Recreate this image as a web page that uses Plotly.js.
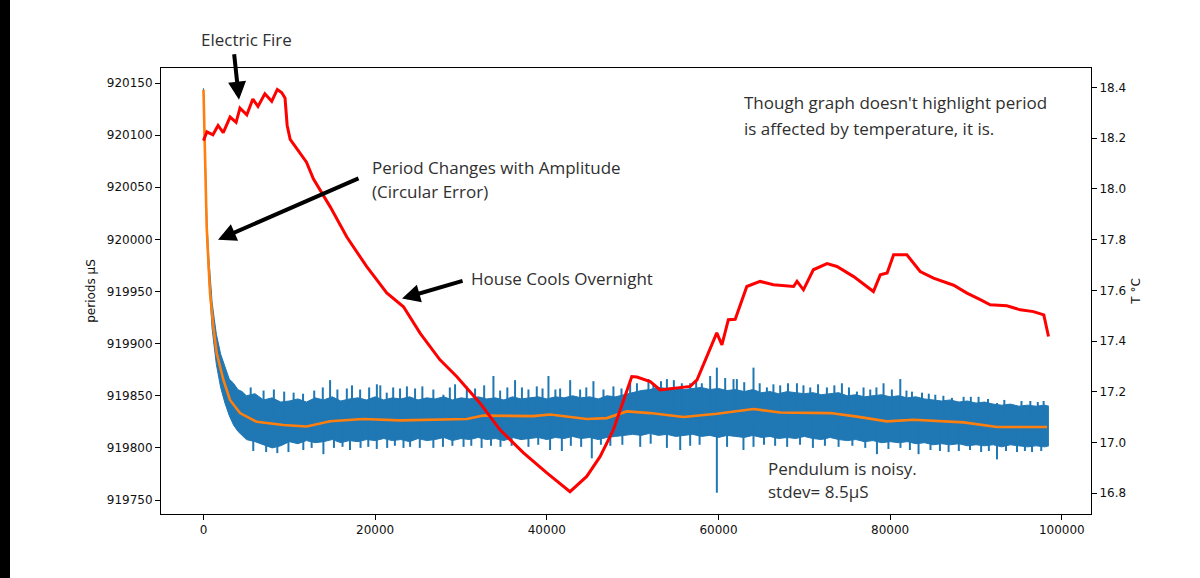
<!DOCTYPE html>
<html>
<head>
<meta charset="utf-8">
<script src="https://cdn.plot.ly/plotly-3.0.1.min.js"></script>
<style>
  html, body { margin: 0; padding: 0; background: #fff; }
  #wrap { position: relative; width: 1200px; height: 578px; }
  #chart { width: 1200px; height: 578px; }
  #edge { position: absolute; left: 0; top: 0; width: 10px; height: 578px; background: #000; }
</style>
</head>
<body>
<div id="wrap"><div id="chart"></div><div id="edge"></div></div>
<script>
// ---- period band (blue) : envelope of the noisy period series ----
const bandX = [0,200,400,600,800,1000,1250,1500,2000,2500,3000,3500,4000,4500,5000,6000,7000,8000,9000,
  10000,11000,12000,13000,14000,15000,16000,17000,18000,19000,20000,21000,22000,23000,24000,25000,26000,27000,28000,29000,
  30000,31000,32000,33000,34000,35000,36000,37000,38000,39000,40000,41000,42000,43000,44000,45000,46000,47000,48000,49000,
  50000,51000,52000,53000,54000,55000,56000,57000,58000,59000,60000,61000,62000,63000,64000,65000,66000,67000,68000,69000,
  70000,71000,72000,73000,74000,75000,76000,77000,78000,79000,80000,81000,82000,83000,84000,85000,86000,87000,88000,89000,
  90000,91000,92000,93000,94000,95000,96000,97000,98000,98500];
const bandUpper = [920145,920078,920018,919985,919957,919940,919924,919909,919890,919878,919866,919862,919856,919854,919850,919852,919846,919848,919844,
  919845,919847,919844,919848,919846,919849,919845,919847,919848,919846,
  919849,919846,919848,919847,919849,919846,919848,919847,919849,919846,
  919848,919847,919849,919847,919848,919846,919849,919847,919848,919849,
  919847,919849,919848,919850,919848,919849,919847,919850,919849,919851,
  919853,919855,919856,919858,919857,919858,919856,919857,919858,919856,
  919857,919855,919856,919854,919856,919853,919854,919852,919854,919853,
  919852,919853,919851,919852,919853,919850,919851,919849,919850,919851,
  919849,919850,919848,919849,919847,919846,919845,919846,919844,919845,
  919843,919844,919842,919841,919842,919840,919841,919840,919841,919840];
const bandLower = [920140,920062,920000,919966,919935,919915,919897,919880,919858,919843,919831,919822,919816,919812,919808,919806,919803,919800,919802,
  919806,919804,919807,919805,919806,919808,919805,919807,919806,919808,
  919807,919809,919807,919808,919806,919809,919807,919808,919810,919807,
  919809,919808,919810,919808,919809,919807,919810,919808,919809,919810,
  919808,919810,919809,919811,919809,919810,919808,919810,919811,919812,
  919813,919812,919814,919812,919813,919811,919812,919813,919811,919812,
  919810,919812,919811,919810,919812,919810,919811,919809,919810,919809,
  919811,919809,919808,919810,919808,919807,919808,919806,919807,919805,
  919806,919805,919806,919804,919805,919803,919804,919803,919804,919802,
  919803,919802,919803,919801,919803,919802,919801,919802,919801,919802];

// individual noise spikes of the period series
const spikeUpX = [5500,7000,8200,9400,10500,11600,12900,13900,14750,15600,16700,17300,18250,19300,20200,20600,21350,22100,22900,23700,24650,25500,26780,27950,28700,29310,30680,31640,32700,33780,34560,35400,36300,37100,37860,38830,39500,40190,41000,41550,42720,43880,44600,45430,46600,47760,48700,49710,50500,51840,52420,53300,53990,54800,55730,56700,57400,58060,59030,59810,60780,61750,62140,63000,64080,64800,65640,66400,67190,68100,69140,69900,70690,71600,72630,73500,74380,75200,76130,76900,77680,78400,79230,80200,81180,81900,82540,83710,84500,85260,86200,87200,88560,89400,90300,91400,92450,93300,94380,95300,96330,97200,97880];
const spikeUpY = [919858,919855,919856,919854,919853,919852,919855,919858,919865,919856,919857,919860,919856,919858,919861,919860,919853,919858,919857,919859,919857,919859,919856,919851,919858,919861,919859,919857,919860,919869,919855,919858,919865,919858,919856,919859,919857,919869,919856,919857,919865,919856,919858,919864,919856,919859,919857,919862,919862,919866,919861,919864,919866,919865,919862,919862,919864,919862,919869,919877,919867,919866,919866,919863,919877,919862,919858,919861,919860,919862,919862,919860,919858,919861,919858,919860,919862,919858,919854,919858,919856,919858,919862,919856,919866,919855,919854,919853,919852,919851,919850,919848,919849,919849,919849,919847,919843,919846,919841,919845,919845,919844,919845];
const spikeDownX = [5800,7300,8600,9900,11630,12600,13970,15200,16200,17070,18300,19200,20190,21400,22300,23300,24070,25200,26780,27900,29000,30300,31200,32400,33500,34600,35900,37860,39000,40380,41750,42800,44000,45240,46300,47400,48800,50880,52100,53990,55540,56700,57800,59810,61000,62910,64080,65300,66600,68000,69500,71000,72400,73990,75600,77100,78460,79800,81200,82300,83310,84700,85800,86810,88000,89300,90600,91500,92450,93500,94780,95700,96530,97600];
const spikeDownY = [919797,919796,919795,919796,919798,919800,919794,919800,919801,919798,919800,919801,919799,919800,919802,919800,919801,919800,919800,919801,919802,919801,919802,919800,919802,919801,919802,919801,919803,919798,919797,919802,919801,919790,919803,919802,919803,919801,919804,919800,919798,919802,919803,919757,919801,919798,919801,919803,919802,919801,919803,919800,919802,919801,919802,919800,919794,919799,919800,919798,919794,919798,919797,919796,919797,919798,919796,919797,919789,919797,919796,919797,919796,919797];

// ---- smoothed period (orange) ----
const smoothX = [0,175,373,560,758,1142,1538,2308,3089,4254,6200,9300,12030,14745,18590,22900,26750,30680,32580,34560,38400,40390,42330,44660,46990,49320,52040,55920,59810,62140,64080,67190,73020,76130,79630,82730,88560,92450,98280];
const smoothY = [920143.6,920076,920012,919980.5,919949,919916.5,919891,919865.4,919846,919833.4,919825,919822,919820.6,919825.5,919827.7,919826.4,919827,919827.7,919831,919831,919830.5,919832,919829.8,919827.7,919828.6,919835,919833.4,919829.6,919832.8,919835,919837.3,919834,919833.4,919830,919825.5,919827,919824.5,919820,919820];

// ---- temperature (red, right axis) ----
const tempX = [0,400,1100,1700,2300,3100,3800,4250,5050,5750,6350,7150,7950,8600,9100,9500,9750,10100,10850,12000,12800,14750,16700,19000,21350,23300,25250,27550,29500,32200,34550,37250,40000,42700,44650,46200,47750,48950,49900,50500,52050,53200,55550,56700,57500,59800,60400,61150,61950,63300,64850,66400,68750,69150,69900,71050,72650,73800,75750,77300,78050,78850,79650,80400,81950,83500,85050,87400,88950,90500,91650,93600,95150,96700,97900,98450];
const tempY = [18.19,18.225,18.213,18.25,18.222,18.283,18.262,18.318,18.292,18.354,18.325,18.375,18.345,18.392,18.38,18.358,18.25,18.195,18.16,18.105,18.04,17.93,17.81,17.694,17.59,17.535,17.43,17.326,17.26,17.156,17.05,16.96,16.88,16.806,16.866,16.944,17.05,17.168,17.26,17.258,17.24,17.207,17.215,17.221,17.247,17.432,17.385,17.484,17.486,17.615,17.635,17.622,17.615,17.635,17.602,17.681,17.705,17.694,17.654,17.615,17.595,17.661,17.668,17.74,17.74,17.674,17.648,17.62,17.589,17.563,17.543,17.539,17.523,17.516,17.503,17.418];

// ---- ticks ----
const xTicks = [0,20000,40000,60000,80000,100000];
const yTicks = [919750,919800,919850,919900,919950,920000,920050,920100,920150];
const y2Ticks = [16.8,17.0,17.2,17.4,17.6,17.8,18.0,18.2,18.4];

// build spike segments from the spike arrays
const spikeMid = 919828;
const spX = [], spY = [];
spikeUpX.forEach((x, i) => { spX.push(x, x, null); spY.push(spikeMid, spikeUpY[i], null); });
spikeDownX.forEach((x, i) => { spX.push(x, x, null); spY.push(spikeMid, spikeDownY[i], null); });

const BLUE = '#1f77b4', ORANGE = '#ff7f0e', RED = '#ff0000';

const traces = [
  {x: bandX, y: bandLower, type: 'scatter', mode: 'lines', line: {color: BLUE, width: 1}, hoverinfo: 'skip', showlegend: false},
  {x: bandX, y: bandUpper, type: 'scatter', mode: 'lines', fill: 'tonexty', fillcolor: BLUE, line: {color: BLUE, width: 1}, hoverinfo: 'skip', showlegend: false},
  {x: spX, y: spY, type: 'scatter', mode: 'lines', line: {color: BLUE, width: 2}, connectgaps: false, hoverinfo: 'skip', showlegend: false},
  {x: smoothX, y: smoothY, type: 'scatter', mode: 'lines', line: {color: ORANGE, width: 2.6}, showlegend: false},
  {x: tempX, y: tempY, yaxis: 'y2', type: 'scatter', mode: 'lines', line: {color: RED, width: 3}, showlegend: false}
];

const noteFont = {family: 'Open Sans, Noto Sans, sans-serif', size: 17, color: '#303030'};
function note(text, x, y, xanchor) {
  return {text: text, x: x, y: y, xref: 'x', yref: 'y', showarrow: false, xanchor: xanchor || 'left', yanchor: 'middle', font: noteFont};
}
function arrow(x, y, ax, ay) {
  return {text: '', x: x, y: y, xref: 'x', yref: 'y', ax: ax, ay: ay, showarrow: true,
    arrowhead: 2, arrowsize: 0.9, arrowwidth: 4, arrowcolor: '#000', standoff: 0, startstandoff: 0};
}

const axisFont = {family: 'DejaVu Sans, sans-serif', size: 12, color: '#111'};

const layout = {
  width: 1200, height: 578,
  margin: {l: 161, r: 109, t: 68, b: 64, pad: 0},
  paper_bgcolor: '#fff', plot_bgcolor: '#fff',
  showlegend: false,
  xaxis: {
    range: [-4950, 103400], tickvals: xTicks, tickformat: 'd',
    showgrid: false, zeroline: false, showline: true, linecolor: '#000', linewidth: 1, mirror: true,
    ticks: 'outside', ticklen: 5, tickcolor: '#000', tickfont: axisFont
  },
  yaxis: {
    range: [919736.6, 920164.4], tickvals: yTicks, tickformat: 'd',
    showgrid: false, zeroline: false, showline: true, linecolor: '#000', linewidth: 1, mirror: true,
    ticks: 'outside', ticklen: 5, tickcolor: '#000', tickfont: axisFont,
    title: {text: 'periods µS', font: axisFont, standoff: 8}
  },
  yaxis2: {
    overlaying: 'y', side: 'right', anchor: 'x',
    range: [16.718, 18.4765], tickvals: y2Ticks, tickformat: '.1f',
    showgrid: false, zeroline: false, showline: true, linecolor: '#000', linewidth: 1,
    ticks: 'outside', ticklen: 5, tickcolor: '#000', tickfont: axisFont,
    title: {text: 'T °C', font: axisFont, standoff: 6}
  },
  annotations: [
    {text: 'Electric Fire', x: 0.0914, y: 1.0628, xref: 'paper', yref: 'paper', showarrow: false,
     xanchor: 'center', yanchor: 'middle', font: noteFont},
    note('Period Changes with Amplitude', 19405, 920068.8),
    note('(Circular Error)', 19405, 920045.7),
    note('House Cools Overnight', 30945, 919962.3),
    note("Though graph doesn't highlight period", 62760, 920131.1),
    note('is affected by temperature, it is.', 62760, 920106.2),
    note('Pendulum is noisy.', 65555, 919780),
    note('stdev= 8.5µS', 65555, 919758),
    arrow(4137, 920134, -5, -47),
    arrow(1690, 919999.7, 142, -62),
    arrow(23135, 919943.3, 62, -18)
  ]
};

Plotly.newPlot('chart', traces, layout, {displayModeBar: false, staticPlot: true});
</script>
</body>
</html>
